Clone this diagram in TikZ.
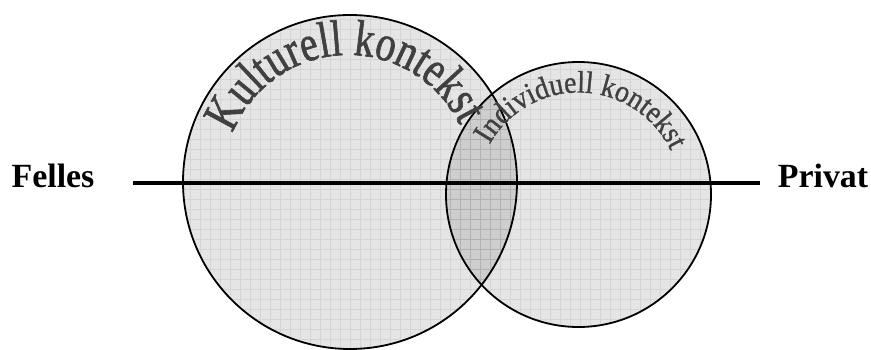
\documentclass[tikz,border=0pt]{standalone}
\usepackage{fontspec}
\setmainfont{Liberation Serif}
\newfontfamily\artfont[FakeStretch=0.78,FakeBold=1.2]{Liberation Serif}
\newfontfamily\artfontb[FakeStretch=0.9,FakeBold=1]{Liberation Serif}
\usetikzlibrary{decorations.text}
\begin{document}
\begin{tikzpicture}[x=1bp,y=1bp,
  sidelabel/.style={font=\bfseries\fontsize{34}{34}\selectfont,inner sep=0pt,anchor=base},
  setfill/.style={fill=black,fill opacity=0.1},
  setgrid/.style={draw=black,draw opacity=0.07,line width=0.8bp,step=10bp},
  rim/.style={draw=black,line width=1.8bp},
  arch/.style={decorate,decoration={text along path,text align=center,text={#1}}}]
\useasboundingbox (0,0) rectangle (871,349);
\coordinate (kc) at (350,167); \coordinate (ic) at (578.5,154.5);
\coordinate (kt) at (348,170);
% the two sets
\fill[setfill] (kc) circle[radius=167];
\begin{scope} \clip (kc) circle[radius=167]; \draw[setgrid] (0,0) grid (871,349); \end{scope}
\draw[rim] (kc) circle[radius=167];
\fill[setfill] (ic) circle[radius=132.5];
\begin{scope} \clip (ic) circle[radius=132.5]; \draw[setgrid] (0,0) grid (871,349); \end{scope}
\draw[rim] (ic) circle[radius=132.5];
% axis
\node[sidelabel] (felles) at (53,162) {Felles};
\node[sidelabel] (privat) at (823,162) {Privat};
\coordinate (axisL) at (133,166); \coordinate (axisR) at (760,166);
\draw[line width=3.5bp] (axisL) -- (axisR);
% arched titles
\path[arch={|\artfont\fontsize{51}{51}\selectfont\color{black!75}|Kulturell kontekst}] (kt) ++(168:124) arc[start angle=168,end angle=16,radius=124];
\path[arch={|\artfontb\fontsize{31}{31}\selectfont\color{black!75}|Individuell kontekst}] (ic) ++(158:102) arc[start angle=158,end angle=18,radius=102];
\end{tikzpicture}
\end{document}
